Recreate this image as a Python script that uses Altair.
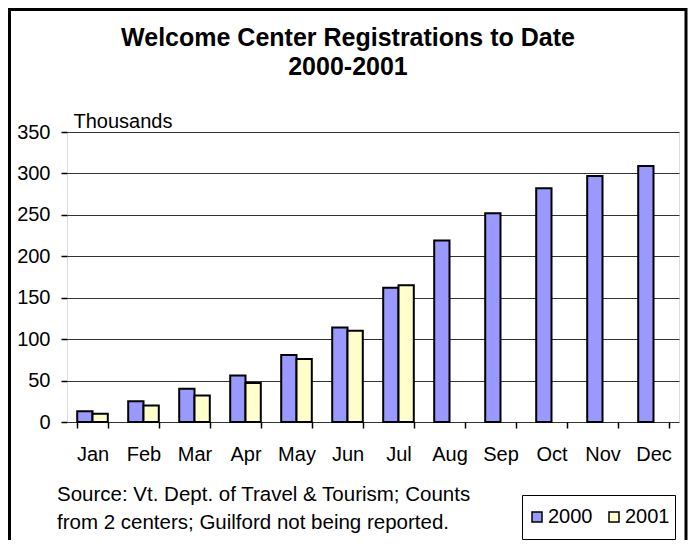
import altair as alt
import pandas as pd

months = ["Jan", "Feb", "Mar", "Apr", "May", "Jun", "Jul", "Aug", "Sep", "Oct", "Nov", "Dec"]
reg_2000 = [13, 25, 40, 56, 81, 114, 162, 219, 252, 282, 297, 309]
reg_2001 = [10, 20, 32, 47, 76, 110, 165]
years = ["2000", "2001"]
colors = ["#9999FF", "#FFFFCC"]
y_ticks = [0, 50, 100, 150, 200, 250, 300, 350]
title_lines = ["Welcome Center Registrations to Date", "2000-2001"]
source_lines = ["Source: Vt. Dept. of Travel & Tourism; Counts",
                "from 2 centers; Guilford not being reported."]

rows = []
for m, v in zip(months, reg_2000):
    rows.append({"month": m, "year": "2000", "value": v})
for m, v in zip(months, reg_2001):
    rows.append({"month": m, "year": "2001", "value": v})
df = pd.DataFrame(rows)

FONT = "Liberation Sans"
W, H = 612, 290
PAD_L, PAD_T, PAD_R, PAD_B = 59, 124, 9, 118

one = pd.DataFrame({"k": [0]})

frame = alt.Chart(one).mark_rect(
    fillOpacity=0, stroke="black", strokeWidth=3
).encode(
    x=alt.value(-PAD_L + 1.5), x2=alt.value(W + PAD_R - 2),
    y=alt.value(-PAD_T + 1.5), y2=alt.value(H + PAD_B + 20)
)

bars = alt.Chart(df).mark_bar(stroke="black", strokeWidth=2).encode(
    x=alt.X("month:N", sort=months,
            scale=alt.Scale(paddingInner=0.4, paddingOuter=0.2),
            axis=alt.Axis(title=None, labelFontSize=20, labelFont=FONT,
                          labelColor="black", labelAngle=0, tickBand="extent",
                          ticks=True, tickSize=6, tickColor="black", tickWidth=1.5,
                          labelPadding=16, domain=False, grid=False)),
    xOffset=alt.XOffset("year:N", sort=years),
    y=alt.Y("value:Q", scale=alt.Scale(domain=[0, 350], nice=False),
            axis=alt.Axis(values=y_ticks, title="Thousands", titleAngle=0,
                          titleX=6, titleY=-5, titleAlign="left",
                          titleBaseline="alphabetic", titleFontSize=20,
                          titleFontWeight="normal", titleFont=FONT,
                          titleColor="black", labelFontSize=20, labelFont=FONT,
                          labelColor="black", grid=True, gridColor="#333333",
                          gridWidth=1, tickSize=6, tickColor="black",
                          tickWidth=1.5, labelPadding=11, domain=False)),
    color=alt.Color("year:N", scale=alt.Scale(domain=years, range=colors),
                    legend=alt.Legend(orient="none", legendX=455, legendY=363,
                                      direction="horizontal", title=None,
                                      strokeColor="black", fillColor="white",
                                      padding=5, symbolType="square",
                                      symbolSize=100, symbolStrokeColor="black",
                                      symbolStrokeWidth=1.5, labelFontSize=20,
                                      labelFont=FONT, labelColor="black",
                                      columnPadding=11, labelOffset=1,
                                      clipHeight=34)),
)

title = alt.Chart(one).mark_text(
    text=title_lines, font=FONT, fontSize=25, fontWeight="bold",
    align="center", baseline="alphabetic", lineHeight=29, color="black"
).encode(x=alt.value(281), y=alt.value(-86))

source = alt.Chart(one).mark_text(
    text=source_lines, font=FONT, fontSize=20.5, align="left",
    baseline="alphabetic", lineHeight=28, color="black"
).encode(x=alt.value(-10), y=alt.value(369))

chart = alt.layer(frame, bars, title, source).properties(
    width=W, height=H,
    autosize=alt.AutoSizeParams(type="none"),
    padding={"left": PAD_L, "top": PAD_T, "right": PAD_R, "bottom": PAD_B},
    background="white",
).configure_view(stroke="black", strokeWidth=2).configure(font=FONT)

chart.save("out.html", embed_options={"renderer": "svg", "actions": False})
